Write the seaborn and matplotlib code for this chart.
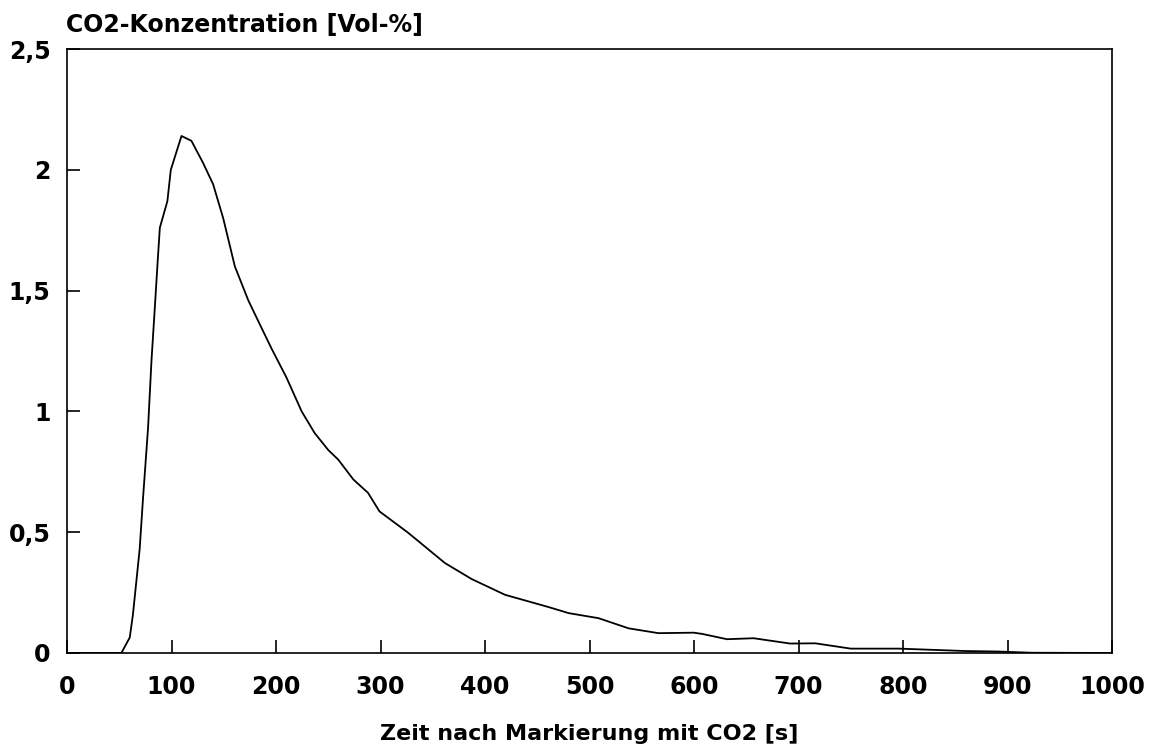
import seaborn as sns
import matplotlib
matplotlib.use("Agg")
import matplotlib.pyplot as plt
from matplotlib.ticker import FuncFormatter
import pandas as pd

# values
zeit = [0, 52, 60, 63, 69.5, 72.7, 77.5, 80.8, 84, 87, 88.8, 96, 99.3, 109.5, 119,
        130, 139.8, 149.4, 160.6, 173.4, 184.5, 195.7, 210, 224.5, 237, 250, 259.6,
        274, 288, 299, 326.6, 361.7, 387.2, 419, 460.8, 480, 508.6, 537.4, 566,
        599.7, 607.7, 631.5, 657, 692, 716, 750, 796, 860, 891, 923, 1000]
co2 = [0, 0, 0.064, 0.157, 0.43, 0.64, 0.93, 1.21, 1.43, 1.64, 1.76, 1.87, 2.0, 2.14, 2.12,
       2.03, 1.94, 1.80, 1.60, 1.46, 1.36, 1.26, 1.14, 1.0, 0.91, 0.84, 0.80,
       0.718, 0.663, 0.586, 0.497, 0.372, 0.306, 0.241, 0.19, 0.165, 0.144, 0.102, 0.082,
       0.084, 0.079, 0.057, 0.061, 0.039, 0.040, 0.018, 0.018, 0.008, 0.006, 0.001, 0]

x_ticks = [0, 100, 200, 300, 400, 500, 600, 700, 800, 900, 1000]
y_ticks = [0, 0.5, 1, 1.5, 2, 2.5]

df = pd.DataFrame({"zeit": zeit, "co2": co2})

sns.set_style("white")
plt.rcParams['font.family'] = ['DejaVu Sans']
plt.rcParams['font.weight'] = 'bold'
plt.rcParams['text.color'] = 'black'

fig = plt.figure(figsize=(11.52, 7.46), dpi=100)
ax = fig.add_axes([0.0582, 0.1247, 0.9071, 0.8096])

sns.lineplot(data=df, x="zeit", y="co2", ax=ax, color="black", linewidth=1.3)

ax.set_xlim(0, 1000)
ax.set_ylim(0, 2.5)
ax.set_xticks(x_ticks)
ax.set_yticks(y_ticks)
ax.yaxis.set_major_formatter(FuncFormatter(lambda v, p: f"{v:g}".replace(".", ",")))
ax.tick_params(bottom=True, left=True, direction="in", length=9.5, width=1.2,
               labelsize=17, colors="black")
ax.tick_params(axis="x", pad=16)
ax.tick_params(axis="y", pad=12)
for lab in ax.get_xticklabels() + ax.get_yticklabels():
    lab.set_fontweight("bold")

for s in ax.spines.values():
    s.set_linewidth(1.2)
    s.set_color("black")

ax.set_xlabel("Zeit nach Markierung mit CO2 [s]", fontsize=16, fontweight="bold",
              labelpad=18, color="black")
ax.set_ylabel("")
ax.set_title("CO2-Konzentration [Vol-%]", loc="left", fontsize=17, fontweight="bold",
             pad=12, x=-0.001, color="black")

fig.savefig("out.png", dpi=100)
